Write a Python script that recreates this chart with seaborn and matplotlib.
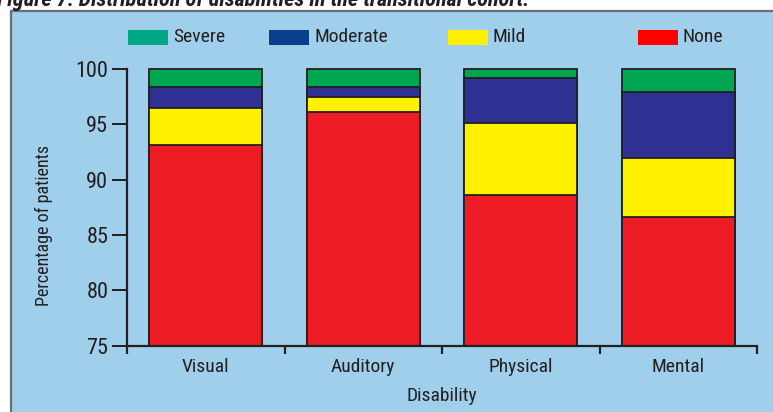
import matplotlib
matplotlib.use("Agg")
import matplotlib.pyplot as plt
from matplotlib import font_manager
from matplotlib.patches import Rectangle
import seaborn as sns
import pandas as pd

# Disability categories and percentage of patients per severity level
categories = ["Visual", "Auditory", "Physical", "Mental"]
none_pct = [93.1, 96.1, 88.6, 86.6]
mild_pct = [3.4, 1.4, 6.5, 5.4]
moderate_pct = [1.9, 0.9, 4.1, 5.9]
severe_pct = [1.6, 1.6, 0.8, 2.1]
y_ticks = [75, 80, 85, 90, 95, 100]
Y_MIN, Y_MAX = 75, 100


def pick_font(candidates):
    for name in candidates:
        try:
            font_manager.findfont(font_manager.FontProperties(family=name),
                                  fallback_to_default=False)
            return name
        except Exception:
            continue
    return "DejaVu Sans"


FONT = pick_font(["Liberation Sans Narrow", "DejaVu Sans Condensed", "Roboto Condensed",
                  "Liberation Sans", "DejaVu Sans"])

sns.set_theme(style="ticks")
plt.rcParams["font.family"] = [FONT, "DejaVu Sans"]

INK = "#231F20"
PANEL = "#A0CFEC"
bar_colors = {"Severe": "#00A651", "Moderate": "#2E3192", "Mild": "#FFF200", "None": "#ED1C24"}
legend_colors = {"Severe": "#00A886", "Moderate": "#0A3E8C", "Mild": "#FFEF00", "None": "#FF0000"}

df = pd.DataFrame({
    "Disability": categories,
    "None": none_pct,
    "Mild": mild_pct,
    "Moderate": moderate_pct,
    "Severe": severe_pct,
})
df["top_none"] = df["None"]
df["top_mild"] = df["top_none"] + df["Mild"]
df["top_moderate"] = df["top_mild"] + df["Moderate"]
df["top_severe"] = df["top_moderate"] + df["Severe"]

W, H = 773, 412
fig = plt.figure(figsize=(W / 100, H / 100), dpi=100)
fig.patch.set_facecolor("white")

# Light blue panel with grey frame on the top and left
panel = Rectangle((11 / W, 0), 1 - 11 / W + 0.01, 1 - 11 / H, transform=fig.transFigure,
                  facecolor=PANEL, edgecolor="none", zorder=-5)
fig.patches.append(panel)
fig.add_artist(plt.Line2D([11 / W, 11 / W], [0, 1 - 11 / H], color="#6D6E71", lw=1.6,
                          transform=fig.transFigure, zorder=-4))
fig.add_artist(plt.Line2D([11 / W, 1], [1 - 11 / H, 1 - 11 / H], color="#6D6E71", lw=1.6,
                          transform=fig.transFigure, zorder=-4))

# Figure caption (top edge of the page)
fig.text(-3 / W, 1 - 6 / H, "Figure 7: Distribution of disabilities in the transitional cohort.",
         fontsize=16, fontweight="bold", fontstyle="italic", color=INK, ha="left",
         va="baseline")

ax = fig.add_axes([127 / W, 1 - 345.7 / H, (757 - 127) / W, (345.7 - 69) / H])
ax.set_facecolor("none")
ax.set_zorder(1)

# Stacked bars: cumulative totals drawn from the tallest down
layers = [("top_severe", "Severe"), ("top_moderate", "Moderate"),
          ("top_mild", "Mild"), ("top_none", "None")]
for col, name in layers:
    sns.barplot(data=df, x="Disability", y=col, order=categories, color=bar_colors[name],
                saturation=1, width=0.72, edgecolor=INK, linewidth=1.3, ax=ax)
# Start every bar at the bottom of the visible scale so edges stay unclipped
for p in ax.patches:
    top = p.get_y() + p.get_height()
    p.set_y(Y_MIN)
    p.set_height(top - Y_MIN)
    p.set_clip_on(False)

ax.set_xlim(-0.5, 3.5)
ax.set_ylim(Y_MIN, Y_MAX)
ax.set_yticks(y_ticks)
ax.set_yticklabels([str(t) for t in y_ticks], fontsize=16, color=INK)
ax.set_xticks(range(len(categories)))
ax.set_xticklabels(categories, fontsize=14, color=INK)
ax.tick_params(axis="x", which="major", length=0, pad=9)
ax.set_xticks([-0.5, 0.5, 1.5, 2.5, 3.5], minor=True)
ax.tick_params(axis="x", which="minor", length=5.5, width=1.6, color=INK, direction="out")
ax.tick_params(axis="y", length=10.5, width=1.4, color=INK, direction="out", pad=3)

for s in ["top", "right"]:
    ax.spines[s].set_visible(False)
for s in ["left", "bottom"]:
    ax.spines[s].set_color(INK)
    ax.spines[s].set_linewidth(1.6)
    ax.spines[s].set_zorder(5)

ax.set_xlabel("Disability", fontsize=14, color=INK, labelpad=8)
ax.set_ylabel("Percentage of patients", fontsize=13, color=INK)
ax.yaxis.set_label_coords(-0.118, 0.433)

# Legend row across the top of the panel
legend_items = [("Severe", 128), ("Moderate", 269), ("Mild", 448), ("None", 638)]
for name, x0 in legend_items:
    fig.patches.append(Rectangle((x0 / W, 1 - 45 / H), 40 / W, 15 / H,
                                 transform=fig.transFigure, facecolor=legend_colors[name],
                                 edgecolor="none", zorder=2))
    fig.text((x0 + 45) / W, 1 - 37.5 / H, name, fontsize=14, color=INK,
             ha="left", va="center")

fig.savefig("out.png", dpi=100, facecolor=fig.get_facecolor())
